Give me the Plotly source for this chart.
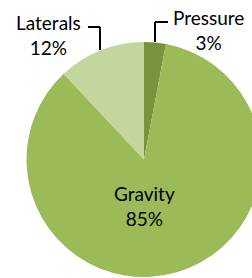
import plotly.graph_objects as go

labels = ["Pressure", "Gravity", "Laterals"]
values = [3, 85, 12]
colors = ["#77933C", "#9BBB59", "#C3D69B"]

W, H = 270, 278
total = sum(values)
pct = [f"{round(v / total * 100)}%" for v in values]

fig = go.Figure(go.Pie(
    labels=labels, values=values, sort=False, direction="clockwise", rotation=0,
    marker=dict(colors=colors, line=dict(width=0)),
    textinfo="none", hoverinfo="label+percent", showlegend=False,
    domain=dict(x=[26.5 / W, 261.5 / W], y=[1 / H, 236 / H]),
))

font = dict(family="Lato, Open Sans, sans-serif", size=19, color="#000000")
label_pos = {"Pressure": (208, 29.5), "Gravity": (144, 205.5), "Laterals": (48.5, 34.5)}
for name, p in zip(labels, pct):
    x, y = label_pos[name]
    fig.add_annotation(x=x / W, y=1 - y / H, xref="paper", yref="paper",
                       text=f"{name}<br>{p}", showarrow=False, font=font,
                       xanchor="center", yanchor="middle", align="center")

line = dict(color="#000000", width=2)
# leader lines
for pts in [[(155, 42), (155, 22), (168, 22)], [(100, 50), (100, 27), (88, 27)]]:
    for (x0, y0), (x1, y1) in zip(pts[:-1], pts[1:]):
        fig.add_shape(type="line", xref="paper", yref="paper",
                      x0=x0 / W, y0=1 - y0 / H, x1=x1 / W, y1=1 - y1 / H, line=line)

fig.update_layout(width=W, height=H, margin=dict(l=0, r=0, t=0, b=0),
                  paper_bgcolor="white", plot_bgcolor="white")

fig.write_html("out.html", config={"displayModeBar": False},
               post_script="document.documentElement.style.overflow='hidden';document.body.style.overflow='hidden';document.body.style.margin='0';")
